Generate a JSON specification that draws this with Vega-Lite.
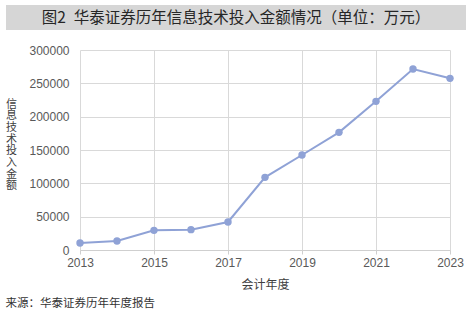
{
  "$schema": "https://vega.github.io/schema/vega-lite/v6.json",
  "padding": {"left": 5, "top": 5, "right": 5, "bottom": 5},
  "background": "white",
  "spacing": 14,
  "title": {
    "text": "来源：华泰证券历年年度报告",
    "orient": "bottom",
    "anchor": "start",
    "font": "Noto Sans CJK SC",
    "fontSize": 11.5,
    "fontWeight": "normal",
    "color": "#333333",
    "offset": 8
  },
  "config": {
    "font": "Noto Sans CJK SC"
  },
  "vconcat": [
    {
      "width": 460,
      "height": 25,
      "data": {"values": [{"t": "图2\u2002华泰证券历年信息技术投入金额情况（单位：万元）"}]},
      "view": {"fill": "#d6d6d6", "stroke": null},
      "mark": {"type": "text", "font": "Noto Sans CJK SC", "fontSize": 15.5, "fontWeight": "normal", "color": "#262626", "baseline": "middle", "align": "center"},
      "encoding": {"text": {"field": "t"}}
    },
    {
      "width": 460,
      "height": 200,
      "view": {"stroke": null},
      "data": {"values": [
        {"year": 2013, "value": 10500},
        {"year": 2014, "value": 13500},
        {"year": 2015, "value": 29500},
        {"year": 2016, "value": 30500},
        {"year": 2017, "value": 42000},
        {"year": 2018, "value": 109000},
        {"year": 2019, "value": 142500},
        {"year": 2020, "value": 176500},
        {"year": 2021, "value": 223000},
        {"year": 2022, "value": 271500},
        {"year": 2023, "value": 257500}
      ]},
      "layer": [
        {
          "mark": {"type": "line", "color": "#8fa2d6", "strokeWidth": 2}
        },
        {
          "mark": {"type": "point", "filled": true, "color": "#8fa2d6", "size": 55, "opacity": 1}
        }
      ],
      "encoding": {
        "x": {
          "field": "year",
          "type": "quantitative",
          "scale": {"domain": [2013, 2023], "nice": false, "zero": false, "range": [74, 444]},
          "axis": {
            "values": [2013, 2015, 2017, 2019, 2021, 2023],
            "format": "d",
            "labelFlush": false,
            "title": "会计年度",
            "titleFont": "Noto Sans CJK SC",
            "titleFontSize": 12,
            "titleFontWeight": "normal",
            "titleColor": "#404040",
            "titlePadding": 11,
            "titleX": 259,
            "labelFont": "Liberation Sans",
            "labelFontSize": 12,
            "labelColor": "#595959",
            "labelPadding": 3,
            "grid": true,
            "gridColor": "#d9d9d9",
            "domainColor": "#cfcfcf",
            "tickColor": "#cfcfcf",
            "tickSize": 4
          }
        },
        "y": {
          "field": "value",
          "type": "quantitative",
          "scale": {"domain": [0, 300000], "nice": false},
          "axis": {
            "offset": -74,
            "values": [0, 50000, 100000, 150000, 200000, 250000, 300000],
            "format": "d",
            "title": ["信", "息", "技", "术", "投", "入", "金", "额"],
            "titleAngle": 0,
            "titleAlign": "center",
            "titleBaseline": "middle",
            "titleX": -69,
            "titleY": 54,
            "titleFont": "Noto Sans CJK SC",
            "titleFontSize": 11,
            "titleFontWeight": "normal",
            "titleColor": "#404040",
            "titleLineHeight": 11.7,
            "labelFont": "Liberation Sans",
            "labelFontSize": 12,
            "labelColor": "#595959",
            "labelPadding": 11,
            "grid": true,
            "gridColor": "#d9d9d9",
            "domain": false,
            "ticks": false
          }
        }
      }
    }
  ]
}
